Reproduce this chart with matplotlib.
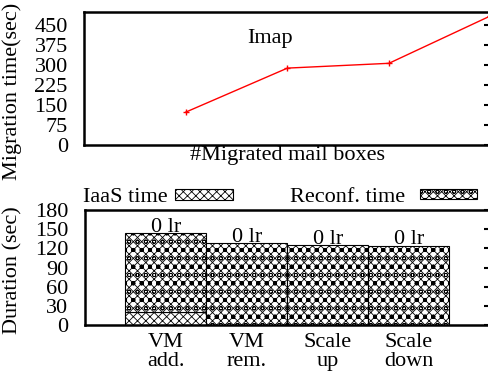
import matplotlib
matplotlib.use("Agg")
import matplotlib.pyplot as plt
from matplotlib.patches import Rectangle

plt.rcParams['font.family'] = ['Liberation Serif', 'DejaVu Serif']
plt.rcParams['hatch.linewidth'] = 0.6

# Top chart data
mig_x = [1, 2, 3, 4]
mig_time = [124, 289, 307, 485]
mig_yticks = [0, 75, 150, 225, 300, 375, 450]

# Bottom chart data
categories = ["VM\nadd.", "VM\nrem.", "Scale\nup", "Scale\ndown"]
iaas_time = [20, 0, 0, 0]
reconf_time = [124, 128, 125, 124]
bar_labels = ["0 lr", "0 lr", "0 lr", "0 lr"]
dur_yticks = [0, 30, 60, 90, 120, 150, 180]

FS = 16
IAAS_HATCH = 'xxxx'
RECONF_HATCH = 'xxxxoo'

fig = plt.figure(figsize=(4.88, 3.72), dpi=100)

# ---- Top axes
ax1 = fig.add_axes([0.173, 0.610, 0.832, 0.358])
ax1.plot(mig_x, mig_time, color='red', lw=1.0, marker='+', ms=5, mew=1.0)
ax1.set_xlim(0, 4)
ax1.set_ylim(0, 500)
ax1.set_yticks(mig_yticks)
ax1.set_xticks([])
ax1.tick_params(axis='y', labelsize=FS, left=False, right=True, direction='in', length=4, width=1.5, pad=12)
ax1.set_ylabel("Migration time(sec)", fontsize=FS)
ax1.yaxis.set_label_coords(-0.153, 0.405)
ax1.set_xlabel("#Migrated mail boxes", fontsize=FS, labelpad=1)
ax1.text(0.458, 0.80, "Imap", transform=ax1.transAxes, fontsize=FS, ha='center', va='center')
for s in ax1.spines.values():
    s.set_linewidth(1.8)

# ---- Bottom axes
ax2 = fig.add_axes([0.174, 0.126, 0.830, 0.309])
pos = list(range(1, len(categories) + 1))
ax2.bar(pos, iaas_time, width=1.0, color='white', edgecolor='black', hatch=IAAS_HATCH, lw=0.8)
ax2.bar(pos, reconf_time, width=1.0, bottom=iaas_time, color='white', edgecolor='black', hatch=RECONF_HATCH, lw=0.8)
for p, i, r, lab in zip(pos, iaas_time, reconf_time, bar_labels):
    ax2.text(p, i + r + 2.5, lab, ha='center', va='baseline', fontsize=FS)
ax2.set_xlim(0, 5)
ax2.set_ylim(0, 180)
ax2.set_yticks(dur_yticks)
ax2.set_xticks(pos)
ax2.set_xticklabels(categories, fontsize=FS, linespacing=1.0)
ax2.tick_params(axis='x', bottom=False, pad=2)
ax2.tick_params(axis='y', labelsize=FS, left=False, right=True, direction='in', length=4, width=1.5, pad=12)
ax2.set_ylabel("Duration (sec)", fontsize=FS)
ax2.yaxis.set_label_coords(-0.153, 0.478)
for s in ax2.spines.values():
    s.set_linewidth(1.8)

# ---- Legend (manual)
W, H = 488, 372
def fig_box(x0, y0, x1, y1, hatch):
    r = Rectangle((x0 / W, 1 - y1 / H), (x1 - x0) / W, (y1 - y0) / H,
                  transform=fig.transFigure, facecolor='white', edgecolor='black',
                  hatch=hatch, lw=0.8)
    fig.patches.append(r)

fig.text(168 / W, 1 - 198 / H, "IaaS time", ha='right', va='center', fontsize=FS)
fig_box(175, 189, 233, 200, IAAS_HATCH)
fig.text(405 / W, 1 - 198 / H, "Reconf. time", ha='right', va='center', fontsize=FS)
fig_box(420, 189, 477, 199, RECONF_HATCH)

fig.savefig("out.png", dpi=100)
